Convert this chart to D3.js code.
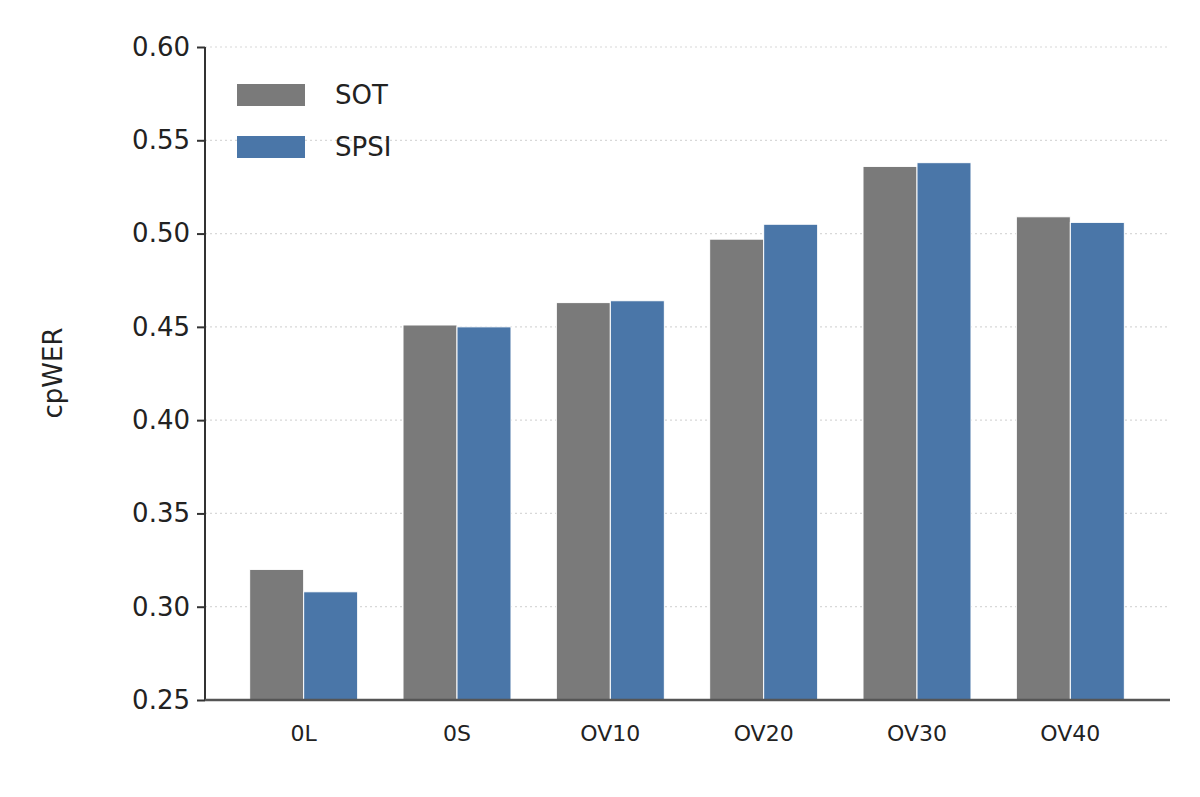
<!DOCTYPE html>
<html><head><meta charset="utf-8">
<script src="https://cdn.jsdelivr.net/npm/d3@7"></script>
<style>body{margin:0;background:#fff}</style>
</head><body>
<svg id="c" width="1200" height="797"></svg>
<script>
const categories = ['0L', '0S', 'OV10', 'OV20', 'OV30', 'OV40'];
const seriesNames = ['SOT', 'SPSI'];
const sotValues = [0.320, 0.451, 0.463, 0.497, 0.536, 0.509];
const spsiValues = [0.308, 0.450, 0.464, 0.505, 0.538, 0.506];
const yTicks = [0.25, 0.30, 0.35, 0.40, 0.45, 0.50, 0.55, 0.60];
const colors = ['#7a7a7a', '#4a76a8'];

(function() {
const svg = d3.select('#c');
const font = 'DejaVu Sans, sans-serif';
const mLeft = 205, mRight = 1170, mTop = 47, mBottom = 700;

const x = d3.scaleBand().domain(categories).range([227, 1147]).paddingInner(0).paddingOuter(0);
const inner = d3.scaleBand().domain(seriesNames).range([x.bandwidth() / 2 - 54, x.bandwidth() / 2 + 54]);
const y = d3.scaleLinear().domain([0.25, 0.60]).range([mBottom, mTop]);

// grid
svg.append('g').selectAll('line').data(yTicks.slice(1)).join('line')
  .attr('x1', mLeft).attr('x2', mRight)
  .attr('y1', d => y(d)).attr('y2', d => y(d))
  .attr('stroke', '#d8d8d8').attr('stroke-width', 1.2).attr('stroke-dasharray', '2,3');

const rows = categories.map((c, i) => ({ c, vals: [sotValues[i], spsiValues[i]] }));
const g = svg.append('g').selectAll('g').data(rows).join('g')
  .attr('transform', d => `translate(${x(d.c)},0)`);
g.selectAll('rect').data(d => d.vals.map((v, j) => ({ v, s: seriesNames[j], j }))).join('rect')
  .attr('x', d => inner(d.s)).attr('width', inner.bandwidth())
  .attr('y', d => y(d.v)).attr('height', d => mBottom - y(d.v))
  .attr('fill', d => colors[d.j]).attr('stroke', '#fff').attr('stroke-width', 1);

// axes
const ya = svg.append('g').attr('transform', `translate(${mLeft},0)`)
  .call(d3.axisLeft(y).tickValues(yTicks).tickFormat(d3.format('.2f')).tickSize(8));
ya.selectAll('text').attr('font-family', font).attr('font-size', 26).attr('fill', '#222').attr('dx', -4);
ya.select('.domain').attr('stroke', '#333').attr('stroke-width', 2).attr('d', `M0,${mTop}V${mBottom}`);
ya.selectAll('.tick line').attr('stroke', '#333').attr('stroke-width', 2);

const xa = svg.append('g').attr('transform', `translate(0,${mBottom})`)
  .call(d3.axisBottom(x).tickSize(0));
xa.select('.domain').attr('stroke', '#555').attr('stroke-width', 2.5).attr('d', `M${mLeft},0H${mRight}`);
xa.selectAll('text').attr('font-family', font).attr('font-size', 22).attr('fill', '#222').attr('dy', 38);

svg.append('text').attr('transform', 'translate(62,373) rotate(-90)')
  .attr('text-anchor', 'middle').attr('font-family', font).attr('font-size', 26).attr('fill', '#222').text('cpWER');

// legend
const lg = svg.append('g').selectAll('g').data(seriesNames).join('g')
  .attr('transform', (d, i) => `translate(237,${84 + i * 52})`);
lg.append('rect').attr('width', 68).attr('height', 22).attr('fill', (d, i) => colors[i]);
lg.append('text').attr('x', 98).attr('y', 20).attr('font-family', font).attr('font-size', 26)
  .attr('fill', '#222').text(d => d);
})();
</script>
</body></html>
